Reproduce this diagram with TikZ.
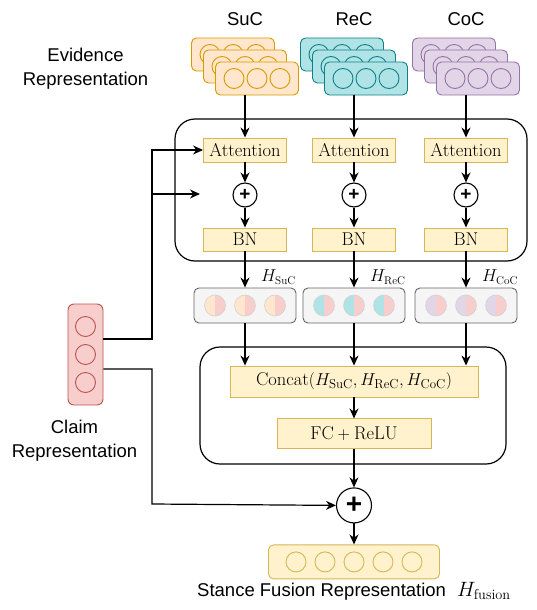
\documentclass[tikz,border=0pt]{standalone}
\usepackage{fontspec}
\newfontfamily\helv{Liberation Sans}
\usepackage{xcolor}
\usetikzlibrary{arrows.meta, positioning, calc}

\definecolor{sucF}{HTML}{FFE6CC}
\definecolor{sucD}{HTML}{D79B00}
\definecolor{recF}{HTML}{B0E3E6}
\definecolor{recD}{HTML}{0E8088}
\definecolor{cocF}{HTML}{E1D5E7}
\definecolor{cocD}{HTML}{9673A6}
\definecolor{claimF}{HTML}{F8CECC}
\definecolor{claimD}{HTML}{B85450}
\definecolor{yelF}{HTML}{FFF2CC}
\definecolor{yelD}{HTML}{D6B656}
\definecolor{grayF}{HTML}{F5F5F5}
\definecolor{grayD}{HTML}{666666}

\begin{document}
\begin{tikzpicture}[x=1pt, y=-1pt,
    lbl/.style={font=\helv\fontsize{18.5}{24}\selectfont, align=center, inner sep=0pt},
    ybox/.style={rectangle, draw=yelD, fill=yelF, line width=0.9pt, inner sep=0pt,
                 font=\fontsize{18.5}{21}\selectfont},
    evbox/.style={rectangle, rounded corners=5pt, minimum width=83pt,
                  minimum height=33pt, line width=0.9pt, inner sep=0pt},
    dot/.style={circle, minimum size=20pt, inner sep=0pt, line width=0.9pt},
    hbox/.style={rectangle, rounded corners=5pt, draw=grayD, fill=grayF,
                 minimum width=102pt, minimum height=35pt, line width=0.9pt},
    hdot/.style={circle, minimum size=21pt, inner sep=0pt, draw=gray!35, line width=0.6pt,
                 path picture={
                   \fill[#1] (path picture bounding box.south west) rectangle (path picture bounding box.north);
                   \fill[claimF] (path picture bounding box.north) rectangle (path picture bounding box.south east);}},
    panel/.style={rectangle, draw, rounded corners=20pt, line width=1.2pt, inner sep=0pt},
    plus/.style={circle, draw, fill=white, line width=1.1pt, inner sep=0pt},
    arrow/.style={-{Stealth[length=10pt,width=9pt]}, line width=1.2pt}
]
\useasboundingbox (0,0) rectangle (537,610);

%% --- Panels ---
\node[panel, minimum width=352pt, minimum height=142pt] (encPanel) at (351,190) {};
\node[panel, minimum width=306pt, minimum height=117pt] (fusePanel) at (353,405.5) {};

%% --- Evidence representation ---
\node[lbl] (eviLbl) at (85.5,68.6) {Evidence\\Representation};

\foreach \nm/\cx/\cF/\cD in {SuC/245/sucF/sucD, ReC/354/recF/recD, CoC/466/cocF/cocD} {
    \node[lbl, anchor=base] (lbl\nm) at (\cx,26) {\nm};
    % stacked boxes, back to front
    \foreach \lay/\dx/\dy in {a/-12/54.5, b/0/66.5, c/12/78.5} {
        \node[evbox, draw=\cD, fill=\cF] (ev\nm\lay) at (\cx+\dx,\dy) {};
        \foreach \ox/\k in {-23/1, 0/2, 23/3}
            \node[dot, draw=\cD, fill=\cF] (ev\nm\lay\k) at ($(ev\nm\lay)+(\ox,0)$) {};
    }

    %% --- Attention / add / BN ---
    \node[ybox, minimum width=83pt, minimum height=24pt] (att\nm) at (\cx,150) {Attention};
    \node[plus, minimum size=24pt, font=\helv\bfseries\fontsize{19}{19}\selectfont,
          below=20pt of att\nm] (plus\nm) {+};
    \node[ybox, minimum width=83pt, minimum height=23pt, below=20pt of plus\nm] (bn\nm) {BN};

    %% --- H rows ---
    \node[hbox] (h\nm) at (\cx,305.5) {};
    \foreach \ox/\k in {-30/1, 0/2, 30/3}
        \node[hdot=\cF] (h\nm\k) at ($(h\nm)+(\ox,0)$) {};
    \node[font=\fontsize{16}{18}\selectfont, anchor=west, inner sep=0pt]
        (hl\nm) at (\cx+16,277) {$H_{\mathrm{\nm}}$};

    \draw[arrow] (ev\nm b |- ev\nm c.south) -- (att\nm.north);
    \draw[arrow] (att\nm) -- (plus\nm);
    \draw[arrow] (plus\nm) -- (bn\nm);
    \draw[arrow] (bn\nm) -- (h\nm);
}

%% --- Fusion ---
\node[ybox, minimum width=248pt, minimum height=31pt] (concat) at (354,381.5)
    {Concat$(H_{\mathrm{SuC}}, H_{\mathrm{ReC}}, H_{\mathrm{CoC}})$};
\node[ybox, minimum width=154pt, minimum height=30pt, below=21pt of concat] (fc)
    {$\mathrm{FC}+\mathrm{ReLU}$};
\node[plus, minimum size=35pt, font=\helv\bfseries\fontsize{28}{28}\selectfont,
      below=38pt of fc] (plusOut) {+};
\node[evbox, draw=yelD, fill=yelF, minimum width=171pt, minimum height=34pt,
      below=21pt of plusOut] (fusion) {};
\foreach \ox/\k in {-58/1, -29/2, 0/3, 29/4, 58/5}
    \node[dot, draw=yelD, fill=yelF] (fusion\k) at ($(fusion)+(\ox,0)$) {};
\node[lbl, anchor=base west] (fusionLbl) at (197,596)
    {Stance Fusion Representation\hspace{11pt}{\fontsize{20.5}{24}\selectfont$H_{\mathrm{fusion}}$}};

\foreach \nm in {SuC, ReC, CoC}
    \draw[arrow] (h\nm) -- (h\nm |- concat.north);
\draw[arrow] (concat) -- (fc);
\draw[arrow] (fc) -- (plusOut);
\draw[arrow] (plusOut) -- (fusion);

%% --- Claim representation ---
\node[rectangle, rounded corners=6pt, draw=claimD, fill=claimF, line width=0.9pt,
      minimum width=35pt, minimum height=101pt] (claim) at (85.5,354.5) {};
\foreach \oy/\k in {-28/1, 0/2, 28/3}
    \node[dot, draw=claimD, fill=claimF] (claim\k) at ($(claim)+(0,\oy)$) {};
\node[lbl] (claimLbl) at (74.5,441) {Claim\\Representation};

\coordinate (jn) at (152,194);
\coordinate (jnEnd) at (200,194);
\coordinate (bendB) at (152,504);

\draw[arrow] ([yshift=15.5pt]claim.east) -| (jn) |- (attSuC.west);
\draw[arrow] (jn) -- (jnEnd);
\draw[arrow] ([yshift=-14.5pt]claim.east) -| (bendB) -- (plusOut.west);

\end{tikzpicture}
\end{document}
